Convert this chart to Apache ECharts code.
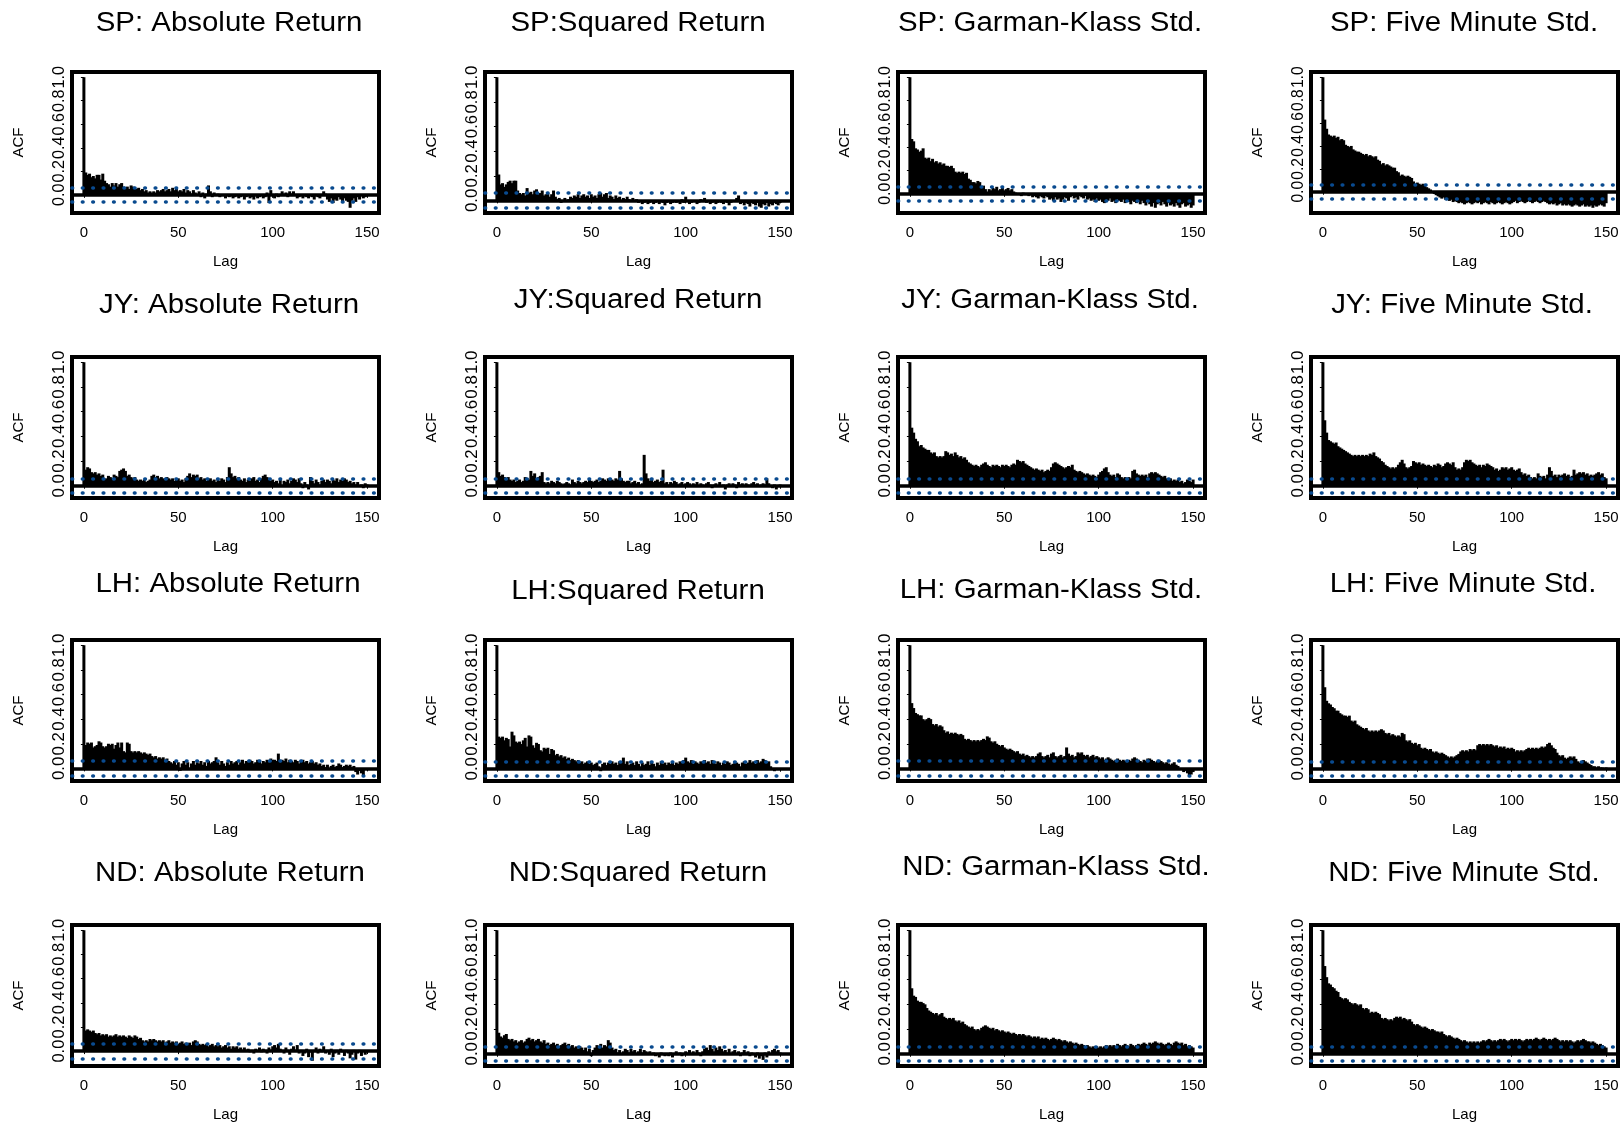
<!DOCTYPE html>
<html><head><meta charset="utf-8">
<script src="https://cdn.jsdelivr.net/npm/echarts@6/dist/echarts.min.js"></script>
<style>html,body{margin:0;padding:0;background:#fff}#c{width:1623px;height:1123px}</style>
</head><body><div id="c"></div>
<script>
// ---------- DATA (ACF values, lag 0..150) ----------
const lags = Array.from({length:151},(_,i)=>i);
const xTicks = [0,50,100,150];
const yTicks = [0,0.2,0.4,0.6,0.8,1.0];
const ciBound = 0.057;

const SP_abs = [1.00,
0.19,0.17,0.18,0.15,0.16,0.14,0.17,0.17,0.13,0.18,
0.12,0.10,0.09,0.07,0.10,0.08,0.10,0.07,0.09,0.10,
0.07,0.06,0.07,0.05,0.08,0.07,0.06,0.05,0.06,0.04,
0.05,0.03,0.04,0.02,0.03,0.02,0.03,0.02,0.04,0.03,
0.04,0.05,0.03,0.04,0.05,0.03,0.06,0.04,0.05,0.03,
0.04,0.03,0.05,0.02,0.04,0.03,0.01,0.04,0.02,-0.01,
0.03,-0.02,0.02,-0.03,0.01,0.08,0.03,-0.02,0.02,-0.01,
0.01,-0.02,0.00,-0.01,-0.03,-0.01,-0.02,0.00,-0.03,-0.02,
-0.01,-0.03,-0.02,0.00,-0.04,-0.02,-0.01,-0.03,-0.02,-0.04,
-0.01,-0.03,-0.02,-0.01,-0.03,-0.02,0.02,-0.07,0.04,-0.01,
-0.03,0.01,-0.02,-0.01,0.03,0.00,0.02,-0.02,0.03,0.01,
0.03,-0.01,-0.03,-0.02,0.00,-0.03,-0.01,-0.02,-0.03,-0.01,
-0.02,-0.04,-0.01,-0.02,-0.03,0.00,0.03,0.01,-0.04,-0.06,
-0.03,-0.07,-0.04,-0.05,-0.02,-0.04,-0.06,-0.03,-0.05,-0.06,
-0.11,-0.05,-0.03,-0.06,-0.02,-0.04,0.00,-0.03,-0.02,-0.01];

const SP_sq = [1.00,
0.21,0.13,0.14,0.11,0.13,0.15,0.16,0.14,0.16,0.16,
0.08,0.06,0.05,0.06,0.04,0.10,0.06,0.07,0.05,0.08,
0.09,0.05,0.06,0.08,0.04,0.05,0.06,0.03,0.05,0.08,
0.03,0.01,0.02,-0.02,0.00,0.02,-0.01,0.01,0.03,0.02,
0.04,0.03,0.05,0.02,0.04,0.05,0.03,0.04,0.02,0.05,
0.03,0.04,0.02,0.05,0.06,0.03,0.05,0.06,0.02,0.04,
0.03,0.01,0.04,0.02,0.03,0.00,0.02,0.01,0.03,0.01,
0.00,0.02,-0.01,0.01,-0.02,-0.01,-0.03,-0.02,0.00,-0.03,
-0.02,-0.01,-0.03,-0.02,0.00,-0.03,-0.01,-0.02,-0.04,-0.02,
-0.01,-0.03,-0.02,0.00,-0.02,-0.01,-0.03,0.01,-0.02,0.03,
-0.01,-0.03,-0.02,0.00,-0.01,-0.03,-0.02,0.01,-0.01,0.02,
-0.02,-0.01,-0.03,-0.02,-0.01,-0.03,-0.02,0.00,-0.02,-0.03,
-0.01,-0.02,-0.04,-0.02,-0.01,0.00,0.02,0.04,-0.03,-0.02,
-0.04,-0.02,-0.03,-0.05,-0.02,-0.03,-0.04,-0.02,-0.05,-0.06,
-0.03,-0.04,-0.02,-0.05,-0.03,-0.04,-0.02,-0.03,-0.04,-0.02];

const SP_gk = [1.00,
0.47,0.45,0.39,0.38,0.36,0.37,0.39,0.31,0.30,0.31,
0.28,0.30,0.27,0.28,0.26,0.27,0.25,0.26,0.24,0.24,
0.23,0.24,0.22,0.19,0.18,0.19,0.18,0.19,0.17,0.18,
0.13,0.12,0.10,0.10,0.09,0.11,0.10,0.06,0.07,0.04,
0.02,0.04,0.03,0.05,0.04,0.06,0.03,0.04,0.05,0.03,
0.04,0.05,0.03,0.04,0.02,0.01,0.00,-0.01,-0.02,0.01,
-0.01,0.00,-0.02,-0.01,-0.03,-0.02,-0.03,-0.04,-0.02,-0.03,
-0.04,-0.02,-0.03,-0.05,-0.04,-0.06,-0.03,-0.05,-0.04,-0.07,
-0.05,-0.03,-0.04,-0.06,-0.03,-0.02,-0.04,-0.03,-0.05,-0.02,
-0.03,-0.04,-0.02,-0.05,-0.04,-0.06,-0.05,-0.07,-0.04,-0.06,
-0.05,-0.07,-0.08,-0.05,-0.06,-0.04,-0.07,-0.06,-0.08,-0.05,
-0.06,-0.07,-0.05,-0.08,-0.06,-0.07,-0.09,-0.06,-0.07,-0.08,
-0.07,-0.09,-0.06,-0.08,-0.10,-0.07,-0.09,-0.11,-0.08,-0.12,
-0.09,-0.08,-0.10,-0.07,-0.09,-0.11,-0.08,-0.10,-0.09,-0.11,
-0.08,-0.10,-0.12,-0.09,-0.08,-0.11,-0.10,-0.09,-0.12,-0.10];

const SP_5m = [1.00,
0.63,0.55,0.50,0.49,0.48,0.49,0.47,0.48,0.45,0.46,
0.45,0.41,0.40,0.39,0.40,0.37,0.36,0.35,0.35,0.34,
0.33,0.32,0.33,0.31,0.32,0.31,0.30,0.31,0.28,0.27,
0.24,0.25,0.23,0.24,0.23,0.22,0.21,0.21,0.18,0.17,
0.14,0.15,0.14,0.13,0.14,0.13,0.12,0.09,0.07,0.08,
0.07,0.06,0.07,0.05,0.04,0.03,0.02,0.00,-0.02,-0.03,
-0.04,-0.05,-0.06,-0.05,-0.07,-0.06,-0.08,-0.07,-0.09,-0.08,
-0.09,-0.10,-0.09,-0.10,-0.11,-0.10,-0.09,-0.10,-0.11,-0.10,
-0.09,-0.10,-0.09,-0.11,-0.10,-0.09,-0.10,-0.11,-0.09,-0.10,
-0.11,-0.10,-0.09,-0.10,-0.11,-0.10,-0.09,-0.10,-0.11,-0.10,
-0.09,-0.08,-0.10,-0.09,-0.08,-0.09,-0.10,-0.09,-0.08,-0.09,
-0.10,-0.09,-0.08,-0.09,-0.10,-0.09,-0.08,-0.09,-0.10,-0.11,
-0.10,-0.11,-0.10,-0.12,-0.11,-0.10,-0.12,-0.11,-0.12,-0.11,
-0.12,-0.13,-0.12,-0.11,-0.12,-0.13,-0.12,-0.11,-0.13,-0.12,
-0.13,-0.12,-0.14,-0.12,-0.13,-0.12,-0.11,-0.12,-0.13,-0.10];

const JY_abs = [1.00,
0.13,0.15,0.14,0.11,0.10,0.11,0.09,0.10,0.08,0.09,
0.05,0.06,0.08,0.07,0.06,0.09,0.08,0.07,0.12,0.13,
0.14,0.12,0.08,0.09,0.07,0.06,0.07,0.05,0.04,0.05,
0.04,0.05,0.03,0.04,0.05,0.08,0.09,0.07,0.08,0.06,
0.07,0.06,0.05,0.07,0.06,0.05,0.06,0.04,0.05,0.06,
0.04,0.05,0.03,0.06,0.08,0.10,0.07,0.09,0.08,0.09,
0.06,0.07,0.05,0.06,0.04,0.05,0.06,0.04,0.05,0.03,
0.05,0.04,0.06,0.05,0.03,0.07,0.15,0.10,0.07,0.08,
0.06,0.07,0.05,0.04,0.06,0.03,0.05,0.04,0.06,0.07,
0.04,0.05,0.03,0.06,0.08,0.09,0.07,0.05,0.04,0.05,
0.03,0.04,0.02,0.05,-0.01,0.04,0.03,0.05,0.02,0.04,
0.06,0.05,0.03,0.06,0.02,-0.02,0.03,0.01,-0.03,0.07,
0.04,0.02,0.05,0.03,0.01,0.04,0.05,0.03,0.05,0.04,
0.02,0.05,0.04,0.06,0.03,0.05,0.04,0.06,0.05,0.03,
0.04,0.02,0.03,0.01,0.03,0.00,0.01,-0.02,0.02,0.01];

const JY_sq = [1.00,
0.11,0.08,0.09,0.07,0.06,0.07,0.05,0.04,0.05,0.03,
0.04,0.05,0.03,0.04,0.07,0.06,0.05,0.12,0.08,0.10,
0.06,0.07,0.08,0.11,0.03,0.02,0.03,0.02,0.04,0.03,
0.02,0.04,0.03,0.02,0.01,0.02,0.03,0.02,0.01,0.05,
0.03,0.02,0.04,0.03,0.02,0.03,0.04,0.03,0.05,0.04,
0.03,0.04,0.05,0.03,0.04,0.06,0.05,0.04,0.06,0.05,
0.05,0.04,0.06,0.05,0.12,0.06,0.04,0.03,0.04,0.04,
0.02,0.03,0.04,0.02,0.03,0.01,0.02,0.25,0.10,0.06,
0.04,0.05,0.03,0.04,0.05,0.03,0.04,0.13,0.02,0.03,
0.01,0.03,0.02,0.04,0.03,0.01,0.02,0.03,0.01,0.02,
0.03,0.02,0.00,0.02,0.01,0.03,0.00,0.02,0.01,-0.01,
0.02,0.03,0.01,-0.02,0.01,0.02,0.00,0.03,-0.01,0.01,
-0.03,0.01,0.02,-0.01,0.02,0.01,-0.02,0.03,0.01,0.02,
0.00,0.02,0.01,-0.01,0.02,0.03,0.01,0.02,0.00,0.01,
0.02,0.01,0.06,0.02,0.00,-0.02,0.01,-0.03,0.00,0.01];

const JY_gk = [1.00,
0.47,0.43,0.38,0.36,0.32,0.33,0.31,0.30,0.29,0.29,
0.27,0.26,0.27,0.24,0.23,0.24,0.23,0.24,0.28,0.27,
0.25,0.26,0.24,0.27,0.25,0.23,0.24,0.22,0.23,0.21,
0.19,0.18,0.17,0.16,0.17,0.16,0.15,0.17,0.18,0.19,
0.17,0.16,0.15,0.17,0.16,0.17,0.16,0.15,0.17,0.16,
0.17,0.16,0.15,0.17,0.18,0.17,0.21,0.20,0.19,0.20,
0.18,0.17,0.16,0.15,0.14,0.13,0.14,0.13,0.12,0.13,
0.11,0.12,0.13,0.12,0.15,0.18,0.19,0.18,0.17,0.16,
0.15,0.14,0.15,0.16,0.15,0.17,0.13,0.12,0.11,0.12,
0.11,0.10,0.09,0.10,0.09,0.08,0.09,0.08,0.07,0.09,
0.11,0.12,0.14,0.15,0.11,0.09,0.08,0.09,0.07,0.10,
0.09,0.07,0.06,0.07,0.06,0.07,0.06,0.12,0.13,0.10,
0.09,0.08,0.09,0.08,0.09,0.07,0.10,0.11,0.10,0.11,
0.10,0.09,0.08,0.07,0.08,0.06,0.05,0.06,0.04,0.05,
0.04,0.05,0.03,0.04,0.02,0.03,0.05,0.04,0.03,0.05];

const JY_5m = [1.00,
0.53,0.43,0.37,0.36,0.35,0.34,0.35,0.32,0.31,0.30,
0.29,0.28,0.27,0.26,0.25,0.24,0.25,0.24,0.25,0.24,
0.25,0.24,0.25,0.24,0.26,0.25,0.27,0.24,0.23,0.22,
0.20,0.19,0.17,0.16,0.15,0.14,0.15,0.14,0.15,0.17,
0.19,0.21,0.18,0.15,0.14,0.15,0.16,0.20,0.19,0.18,
0.19,0.17,0.18,0.17,0.16,0.17,0.16,0.15,0.17,0.16,
0.18,0.17,0.15,0.16,0.18,0.19,0.18,0.17,0.19,0.15,
0.13,0.14,0.13,0.15,0.19,0.21,0.20,0.21,0.19,0.18,
0.17,0.16,0.17,0.15,0.17,0.16,0.18,0.17,0.16,0.15,
0.13,0.14,0.12,0.13,0.15,0.14,0.15,0.13,0.14,0.15,
0.13,0.12,0.13,0.14,0.11,0.09,0.10,0.08,0.09,0.07,
0.06,0.07,0.06,0.10,0.08,0.07,0.08,0.06,0.09,0.15,
0.12,0.08,0.09,0.07,0.09,0.08,0.09,0.10,0.08,0.09,
0.07,0.08,0.13,0.09,0.10,0.11,0.10,0.11,0.09,0.10,
0.08,0.09,0.08,0.09,0.10,0.11,0.09,0.10,0.07,0.06];

const LH_abs = [1.00,
0.19,0.21,0.20,0.21,0.17,0.18,0.19,0.22,0.21,0.18,
0.17,0.18,0.20,0.19,0.20,0.16,0.19,0.21,0.17,0.21,
0.14,0.13,0.21,0.20,0.14,0.13,0.14,0.13,0.14,0.13,
0.12,0.13,0.12,0.11,0.12,0.10,0.09,0.10,0.08,0.09,
0.08,0.09,0.07,0.08,0.06,0.05,0.04,0.06,0.03,0.05,
-0.02,0.04,0.06,0.03,0.05,-0.01,0.04,0.06,0.03,0.05,
0.04,0.06,0.03,0.05,0.02,0.06,0.04,0.05,0.06,0.09,
0.05,0.03,0.06,0.04,0.02,0.05,0.03,0.06,0.04,0.05,
0.06,0.03,0.05,0.07,0.04,0.06,0.05,0.07,0.06,0.04,
0.05,0.07,0.06,0.04,0.06,0.05,0.07,0.05,0.08,0.07,
0.07,0.06,0.12,0.05,0.07,0.06,0.08,0.05,0.07,0.06,
0.05,0.07,0.06,0.04,0.06,0.07,0.05,0.06,0.04,0.05,
0.06,0.04,0.05,0.03,0.04,0.02,0.03,0.01,0.03,-0.01,
0.02,0.03,0.01,0.02,0.04,0.03,0.01,0.02,0.03,0.02,
0.03,0.01,0.02,-0.03,-0.05,-0.02,-0.04,-0.06,-0.01,0.00];

const LH_sq = [1.00,
0.26,0.25,0.26,0.23,0.25,0.24,0.18,0.30,0.27,0.22,
0.21,0.22,0.20,0.23,0.25,0.18,0.27,0.26,0.19,0.17,
0.21,0.20,0.15,0.14,0.17,0.16,0.17,0.12,0.16,0.15,
0.11,0.12,0.10,0.11,0.09,0.10,0.08,0.09,0.07,0.08,
0.07,0.06,0.07,0.05,0.06,0.04,0.05,0.06,0.04,0.05,
0.03,0.04,0.05,0.02,-0.02,0.04,0.05,0.03,0.05,0.04,
0.06,0.04,0.05,0.03,0.06,0.05,0.09,0.04,0.06,0.03,
0.04,0.05,0.03,0.06,0.04,0.02,0.05,0.03,0.04,0.06,
0.03,0.05,0.04,0.02,0.05,0.03,0.06,0.04,0.05,0.03,
0.05,0.04,0.06,0.03,0.05,0.04,0.06,0.05,0.07,0.09,
0.06,0.05,0.07,0.04,0.06,0.05,0.04,0.06,0.05,0.07,
0.05,0.06,0.04,0.07,0.05,0.04,0.06,0.05,0.03,0.05,
0.04,0.06,0.05,0.03,0.04,0.06,0.05,0.04,0.02,0.05,
0.06,0.04,0.05,0.07,0.05,0.06,0.04,0.07,0.05,0.06,
0.08,0.07,0.05,0.06,0.02,-0.01,-0.02,0.00,-0.01,0.00];

const LH_gk = [1.00,
0.53,0.49,0.45,0.44,0.43,0.43,0.40,0.39,0.40,0.41,
0.40,0.36,0.35,0.36,0.34,0.35,0.34,0.31,0.29,0.30,
0.28,0.29,0.28,0.29,0.28,0.27,0.28,0.27,0.24,0.23,
0.24,0.23,0.22,0.23,0.22,0.23,0.22,0.23,0.24,0.23,
0.26,0.25,0.22,0.21,0.22,0.20,0.19,0.18,0.19,0.17,
0.16,0.15,0.16,0.15,0.14,0.13,0.14,0.12,0.11,0.12,
0.10,0.11,0.10,0.09,0.10,0.09,0.10,0.12,0.13,0.10,
0.09,0.10,0.11,0.09,0.12,0.13,0.10,0.09,0.10,0.11,
0.09,0.10,0.17,0.12,0.10,0.11,0.09,0.10,0.13,0.12,
0.13,0.11,0.10,0.11,0.09,0.10,0.11,0.09,0.10,0.09,
0.08,0.09,0.07,0.08,0.09,0.08,0.07,0.06,0.07,0.08,
0.07,0.06,0.07,0.06,0.05,0.07,0.06,0.08,0.09,0.08,
0.07,0.06,0.05,0.07,0.06,0.08,0.08,0.07,0.06,0.05,
0.06,0.07,0.06,0.05,0.04,0.05,0.04,0.03,0.04,0.05,
0.03,0.02,0.00,-0.01,-0.03,-0.02,-0.04,-0.06,-0.05,-0.03];

const LH_5m = [1.00,
0.66,0.55,0.53,0.52,0.50,0.49,0.47,0.47,0.45,0.44,
0.43,0.43,0.42,0.43,0.39,0.38,0.39,0.36,0.35,0.34,
0.33,0.32,0.33,0.31,0.30,0.31,0.30,0.31,0.30,0.31,
0.32,0.31,0.29,0.28,0.29,0.27,0.28,0.27,0.26,0.27,
0.26,0.29,0.28,0.23,0.22,0.23,0.21,0.20,0.21,0.19,
0.20,0.17,0.16,0.17,0.16,0.15,0.16,0.14,0.13,0.14,
0.13,0.12,0.13,0.12,0.11,0.10,0.09,0.10,0.09,0.10,
0.11,0.12,0.14,0.15,0.14,0.15,0.14,0.16,0.15,0.16,
0.15,0.19,0.20,0.19,0.20,0.19,0.20,0.19,0.20,0.19,
0.18,0.19,0.17,0.18,0.17,0.18,0.16,0.17,0.16,0.17,
0.16,0.14,0.15,0.14,0.15,0.14,0.15,0.16,0.17,0.16,
0.17,0.16,0.17,0.16,0.17,0.18,0.17,0.18,0.20,0.21,
0.19,0.17,0.16,0.13,0.11,0.10,0.11,0.09,0.08,0.09,
0.10,0.09,0.10,0.08,0.06,0.05,0.06,0.07,0.06,0.05,
0.04,0.03,0.02,0.02,0.01,0.02,0.01,0.01,0.00,0.01];

const ND_abs = [1.00,
0.17,0.18,0.17,0.16,0.17,0.15,0.14,0.15,0.13,0.14,
0.13,0.14,0.12,0.13,0.12,0.13,0.14,0.12,0.13,0.12,
0.13,0.12,0.11,0.13,0.12,0.11,0.13,0.12,0.10,0.11,
0.09,0.08,0.09,0.08,0.10,0.09,0.10,0.09,0.08,0.09,
0.08,0.09,0.07,0.08,0.09,0.07,0.08,0.07,0.08,0.06,
0.07,0.08,0.06,0.07,0.06,0.07,0.05,0.08,0.09,0.08,
0.06,0.05,0.06,0.05,0.06,0.04,0.05,0.06,0.04,0.05,
0.04,0.05,0.03,0.04,0.05,0.03,0.04,0.02,0.04,0.03,
0.04,0.02,0.03,0.01,0.03,0.00,0.02,-0.01,0.01,-0.02,
0.02,0.00,0.03,-0.01,0.02,0.01,-0.02,0.03,0.01,0.04,
0.05,0.03,0.06,0.02,0.00,-0.02,0.03,0.01,-0.03,0.02,
0.04,0.01,0.05,-0.02,0.01,-0.04,-0.02,0.02,-0.05,-0.01,
-0.08,0.01,0.03,-0.02,0.02,-0.01,0.04,-0.02,0.01,-0.03,
0.02,-0.05,-0.02,0.01,-0.03,0.02,-0.01,-0.04,0.01,-0.02,
-0.06,-0.03,0.01,-0.07,-0.02,0.01,-0.04,0.00,-0.03,-0.01];

const ND_sq = [1.00,
0.17,0.14,0.13,0.15,0.16,0.12,0.11,0.12,0.10,0.11,
0.09,0.10,0.11,0.09,0.10,0.12,0.13,0.11,0.12,0.10,
0.11,0.12,0.10,0.09,0.11,0.08,0.09,0.07,0.08,0.09,
0.07,0.08,0.06,0.07,0.08,0.09,0.07,0.08,0.06,0.07,
0.05,0.06,0.04,0.06,0.05,0.03,0.05,0.02,0.04,-0.02,
0.03,0.05,0.07,0.06,0.08,0.05,0.07,0.06,0.11,0.09,
0.05,0.03,0.04,0.01,0.03,-0.01,0.02,0.04,0.03,0.01,
0.04,0.02,0.03,0.00,0.02,0.04,0.01,0.03,0.02,0.01,
0.02,-0.01,0.01,-0.02,0.00,-0.03,0.01,-0.01,-0.02,0.00,
-0.02,0.01,-0.03,0.00,0.02,-0.01,0.01,-0.02,0.00,0.02,
0.01,0.03,0.00,0.02,-0.01,0.03,0.01,-0.02,0.02,0.04,
0.05,0.03,0.07,0.04,0.02,0.05,0.03,0.06,0.04,0.02,
0.03,0.01,0.04,-0.01,0.02,0.03,0.00,0.02,-0.02,0.01,
0.03,0.01,0.02,-0.02,0.01,0.00,-0.03,0.01,-0.04,-0.02,
-0.05,0.01,-0.03,0.02,0.00,0.03,0.04,0.02,0.03,0.01];

const ND_gk = [1.00,
0.53,0.47,0.46,0.43,0.42,0.42,0.41,0.40,0.37,0.35,
0.34,0.33,0.32,0.33,0.31,0.32,0.33,0.30,0.29,0.28,
0.29,0.28,0.29,0.27,0.26,0.27,0.25,0.26,0.24,0.23,
0.22,0.21,0.22,0.20,0.19,0.20,0.19,0.21,0.22,0.23,
0.22,0.21,0.20,0.21,0.19,0.20,0.19,0.18,0.19,0.18,
0.17,0.18,0.17,0.16,0.17,0.16,0.15,0.16,0.15,0.16,
0.15,0.14,0.15,0.14,0.13,0.14,0.13,0.14,0.12,0.13,
0.12,0.13,0.12,0.11,0.12,0.13,0.12,0.11,0.12,0.11,
0.10,0.11,0.10,0.09,0.10,0.09,0.08,0.09,0.08,0.07,
0.08,0.07,0.06,0.07,0.06,0.05,0.06,0.05,0.06,0.05,
0.06,0.05,0.06,0.07,0.06,0.07,0.06,0.07,0.06,0.08,
0.07,0.06,0.07,0.08,0.07,0.06,0.08,0.07,0.06,0.07,
0.08,0.07,0.08,0.09,0.08,0.07,0.09,0.08,0.09,0.10,
0.09,0.08,0.09,0.08,0.07,0.08,0.09,0.08,0.07,0.09,
0.10,0.09,0.08,0.09,0.07,0.08,0.06,0.07,0.06,0.05];

const ND_5m = [1.00,
0.71,0.62,0.57,0.56,0.54,0.53,0.51,0.50,0.46,0.45,
0.44,0.45,0.44,0.42,0.41,0.40,0.41,0.40,0.39,0.40,
0.37,0.36,0.37,0.36,0.33,0.34,0.33,0.34,0.33,0.32,
0.29,0.28,0.29,0.28,0.27,0.28,0.27,0.29,0.30,0.29,
0.30,0.28,0.29,0.28,0.27,0.28,0.26,0.24,0.23,0.24,
0.23,0.22,0.21,0.22,0.21,0.20,0.19,0.20,0.19,0.18,
0.18,0.17,0.18,0.16,0.15,0.14,0.15,0.14,0.13,0.12,
0.13,0.12,0.11,0.10,0.11,0.10,0.09,0.10,0.09,0.10,
0.09,0.10,0.09,0.10,0.11,0.10,0.11,0.12,0.11,0.10,
0.11,0.10,0.11,0.12,0.11,0.12,0.11,0.10,0.11,0.12,
0.11,0.12,0.11,0.12,0.11,0.10,0.11,0.12,0.11,0.12,
0.11,0.12,0.13,0.12,0.11,0.12,0.13,0.12,0.11,0.12,
0.11,0.12,0.13,0.12,0.11,0.10,0.11,0.10,0.11,0.10,
0.11,0.10,0.09,0.10,0.11,0.10,0.11,0.12,0.11,0.10,
0.10,0.09,0.10,0.09,0.08,0.07,0.08,0.07,0.06,0.05];

const panelSeries = [
  [SP_abs, SP_sq, SP_gk, SP_5m],
  [JY_abs, JY_sq, JY_gk, JY_5m],
  [LH_abs, LH_sq, LH_gk, LH_5m],
  [ND_abs, ND_sq, ND_gk, ND_5m]
];
const panelTitles = [
  ["SP: Absolute Return","SP:Squared Return","SP: Garman-Klass Std.","SP: Five Minute Std."],
  ["JY: Absolute Return","JY:Squared Return","JY: Garman-Klass Std.","JY: Five Minute Std."],
  ["LH: Absolute Return","LH:Squared Return","LH: Garman-Klass Std.","LH: Five Minute Std."],
  ["ND: Absolute Return","ND:Squared Return","ND: Garman-Klass Std.","ND: Five Minute Std."]
];
const xName = "Lag";
const yName = "ACF";

// ---------- LAYOUT ----------
const colLeft = [72, 485, 898, 1311];
const rowTop = [72, 357, 640, 925];
const gridW = 307, gridH = 141;
const titleX = [[229,638,1050,1464],[229,638,1050,1462],[228,638,1051,1463],[230,638,1056,1464]];
const titleY = [[24,24,24,24],[306,301,301,306],[585,592,591,585],[874,874,868,874]];
const FONT = "'Liberation Sans', Arial, Helvetica, sans-serif";
const ciColor = '#094a8f';

const chart = echarts.init(document.getElementById('c'), null, {renderer:'canvas'});
const grids=[], xAxes=[], yAxes=[], series=[], graphics=[];
let k=0;
for (let r=0;r<4;r++){
  for (let c=0;c<4;c++){
    const vals = panelSeries[r][c];
    const lo = Math.min(Math.min.apply(null, vals), -ciBound);
    const span = 1 - lo;
    const yMin = lo - 0.04*span, yMax = 1 + 0.04*span;
    const tickPx = gridH*0.2/(yMax-yMin);
    const yFs = Math.min(17, Math.floor(tickPx/1.46*10)/10);
    grids.push({left:colLeft[c], top:rowTop[r], width:gridW, height:gridH,
      show:true, borderColor:'#000', borderWidth:4, backgroundColor:'transparent', containLabel:false});
    xAxes.push({type:'value', gridIndex:k, min:-6.3, max:156.3,
      name:xName, nameLocation:'middle', nameGap:41,
      nameTextStyle:{fontFamily:FONT, fontSize:15, color:'#000'},
      axisLine:{show:false}, splitLine:{show:false},
      axisTick:{show:true, customValues:xTicks, length:3, lineStyle:{color:'#000', width:1}},
      axisLabel:{customValues:xTicks, fontFamily:FONT, fontSize:15, color:'#000', margin:12,
        showMinLabel:true, showMaxLabel:true, formatter:v=>String(v)}});
    yAxes.push({type:'value', gridIndex:k, min:yMin, max:yMax,
      name:yName, nameLocation:'middle', nameGap:46, nameRotate:90,
      nameTextStyle:{fontFamily:FONT, fontSize:15, color:'#000'},
      axisLine:{show:false}, splitLine:{show:false},
      axisTick:{show:true, customValues:yTicks, length:3, lineStyle:{color:'#000', width:1}},
      axisLabel:{customValues:yTicks, rotate:90, fontFamily:FONT, fontSize:yFs, color:'#000', margin:4,
        showMinLabel:true, showMaxLabel:true, hideOverlap:false,
        formatter:v=>v.toFixed(1)}});
    series.push({type:'bar', xAxisIndex:k, yAxisIndex:k,
      data: lags.map(i=>[i, vals[i]]),
      barWidth:3, itemStyle:{color:'#000'}, silent:true, animation:false,
      markLine:{silent:true, symbol:['none','none'], label:{show:false}, animation:false,
        data:[
          {yAxis:0, lineStyle:{color:'#000', width:3.5, type:'solid'}},
          {yAxis:ciBound, lineStyle:{color:ciColor, width:3.6, type:[0.6,9.8], cap:'round'}},
          {yAxis:-ciBound, lineStyle:{color:ciColor, width:3.6, type:[0.6,9.8], cap:'round'}}
        ]}});
    graphics.push({type:'text', x:titleX[r][c], y:titleY[r][c], scaleX:1.09,
      style:{text:panelTitles[r][c], fontFamily:FONT, fontSize:27, fill:'#000',
        align:'center', verticalAlign:'middle'}});
    k++;
  }
}
chart.setOption({animation:false, backgroundColor:'#fff',
  grid:grids, xAxis:xAxes, yAxis:yAxes, series:series, graphic:graphics});
</script></body></html>
